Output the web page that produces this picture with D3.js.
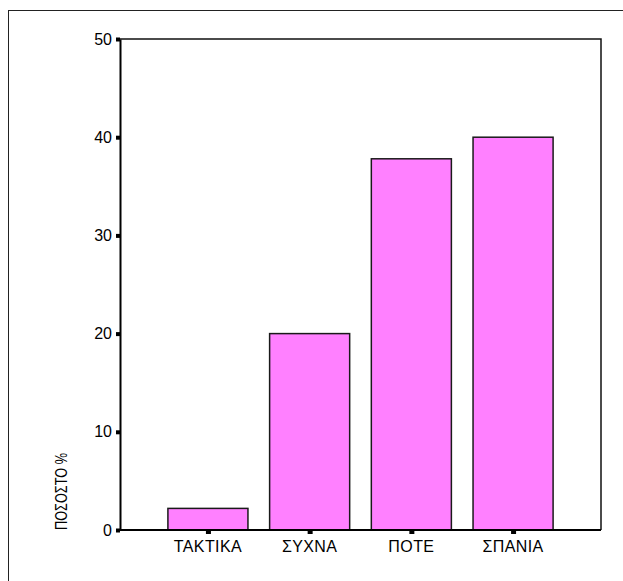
<!DOCTYPE html>
<html>
<head>
<meta charset="utf-8">
<script src="https://cdn.jsdelivr.net/npm/d3@7"></script>
<style>
  html, body { margin: 0; padding: 0; background: #fff; }
  svg { display: block; }
  text { font-family: "Liberation Sans", Arial, sans-serif; fill: #000; }
</style>
</head>
<body>
<script>
const categories = ["ΤΑΚΤΙΚΑ", "ΣΥΧΝΑ", "ΠΟΤΕ", "ΣΠΑΝΙΑ"];
const values = [2.2, 20.0, 37.8, 40.0];
const yTicks = [0, 10, 20, 30, 40, 50];
const yTitle = "ΠΟΣΟΣΤΟ %";

const W = 623, H = 581;
const mLeft = 120, mRight = 601, mTop = 39, mBottom = 530;

const svg = d3.select("body").append("svg").attr("width", W).attr("height", H);

// outer frame
svg.append("rect").attr("x", 8.5).attr("y", 10.5).attr("width", 800).attr("height", 800)
  .attr("fill", "none").attr("stroke", "#222").attr("stroke-width", 1);

const x = d3.scaleBand().domain(categories).range([mLeft, mRight])
  .paddingInner(0.213).paddingOuter(0.471);
const y = d3.scaleLinear().domain([0, 50]).range([mBottom, mTop]);

// plot frame (top & right)
svg.append("path")
  .attr("d", `M${mLeft},${mTop}H${mRight}V${mBottom}`)
  .attr("fill", "none").attr("stroke", "#111").attr("stroke-width", 1.5);

// bars
svg.selectAll("rect.bar").data(categories).enter().append("rect")
  .attr("class", "bar")
  .attr("x", d => x(d))
  .attr("y", (d, i) => y(values[i]))
  .attr("width", x.bandwidth())
  .attr("height", (d, i) => y(0) - y(values[i]))
  .attr("fill", "#ff80ff")
  .attr("stroke", "#1a1a1a").attr("stroke-width", 1.5);

// y axis
const yAxis = d3.axisLeft(y).tickValues(yTicks).tickSize(0).tickPadding(8);
const gy = svg.append("g").attr("transform", `translate(${mLeft},0)`).call(yAxis);
gy.select(".domain").attr("stroke", "#000").attr("stroke-width", 2);
gy.selectAll(".tick text").style("font-size", "16px");
gy.selectAll(".tick").append("rect")
  .attr("x", -4).attr("y", -2).attr("width", 4).attr("height", 4).attr("fill", "#000");

// x axis
const xAxis = d3.axisBottom(x).tickSize(0).tickPadding(11);
const gx = svg.append("g").attr("transform", `translate(0,${mBottom})`).call(xAxis);
gx.select(".domain").attr("stroke", "#000").attr("stroke-width", 2)
  .attr("d", `M${mLeft},0H${mRight}`);
gx.selectAll(".tick text").style("font-size", "16px").style("letter-spacing", "0.4px").attr("dy", "0.71em");
gx.selectAll(".tick").append("rect")
  .attr("x", -2).attr("y", 0).attr("width", 5).attr("height", 4).attr("fill", "#000");

// y title
svg.append("text")
  .attr("transform", `translate(66.5,${mBottom}) rotate(-90)`)
  .attr("text-anchor", "start")
  .attr("textLength", 77)
  .attr("lengthAdjust", "spacingAndGlyphs")
  .style("font-size", "16px")
  .text(yTitle);
</script>
</body>
</html>
